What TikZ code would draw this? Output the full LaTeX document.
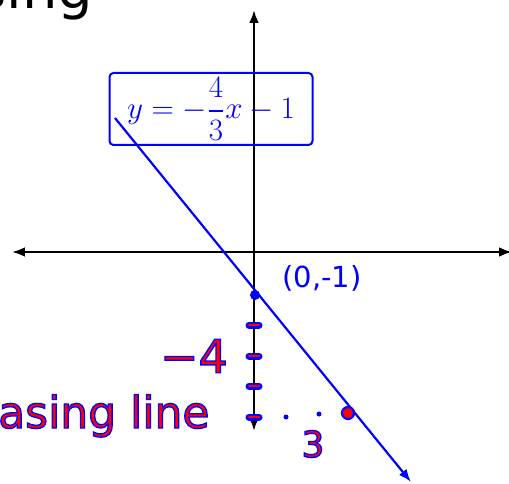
\documentclass[tikz,border=0pt]{standalone}
\usepackage{amsmath}
\usepackage{graphicx}
\usepackage{fontspec}
\usetikzlibrary{arrows.meta,positioning}
\newfontfamily\handfont{DejaVu Sans}
\newcommand\outlined[1]{\special{pdf:code 2 Tr 0 0 1 RG 1.3 w}#1\special{pdf:code 0 Tr}}

\begin{document}
\begin{tikzpicture}[x=1pt,y=-1pt,>=Latex,axis/.style={draw=black,line width=2.2pt,<->},graph/.style={draw=blue,line width=2.2pt,->},eqbox/.style={draw=blue,line width=2pt,rounded corners=4pt,minimum width=203pt,minimum height=72pt,inner sep=0pt,text=blue,font=\LARGE},dot/.style={circle,fill=blue,inner sep=0pt,minimum size=10pt},hand/.style={text=red,font=\handfont\fontsize{44}{44}\selectfont}]
\useasboundingbox (0,0) rectangle (509,484);
\node[anchor=base east,font=\handfont\fontsize{56}{56}\selectfont] (title) at (97,9) {using};
\coordinate (xl) at (12,252); \coordinate (xr) at (512,252);
\coordinate (yt) at (254,10); \coordinate (yb) at (254,431);
\draw[axis] (xl)--(xr); \draw[axis] (yb)--(yt);
% rise marks on the y-axis
\foreach \t in {325,356,386,417}{\draw[blue,line width=7pt,line cap=round] (249,\t)--(259,\t); \draw[red,line width=2.5pt,line cap=round] (249,\t)--(259,\t);}
\node[eqbox] (eqn) at (211,109) {\scalebox{1.8}{$y=-\dfrac{4}{3}x-1$}};
\coordinate (lnA) at (115,118); \coordinate (lnB) at (411,482);
\draw[graph] (lnA)--(lnB);
\node[dot] (yint) at (255,295) {};
\node[dot,minimum size=5pt] (d1) at (286,417) {};
\node[dot,minimum size=5pt] (d2) at (319,414) {};
\node[circle,fill=red,draw=blue,line width=2.2pt,inner sep=0pt,minimum size=12pt] (pt) at (348,413) {};
\node[text=blue,font=\handfont\fontsize{29}{29}\selectfont] (lbl) at (322,278) {(0,-1)};
\node[hand,font=\handfont\fontsize{46}{46}\selectfont] (rise) at (194,356) {\outlined{−4}};
\node[hand,font=\handfont\fontsize{36}{36}\selectfont] (run) at (313,444) {\outlined{3}};
\node[hand,anchor=base east] (desc) at (213,428) {\outlined{decreasing line}};
\end{tikzpicture}
\end{document}
